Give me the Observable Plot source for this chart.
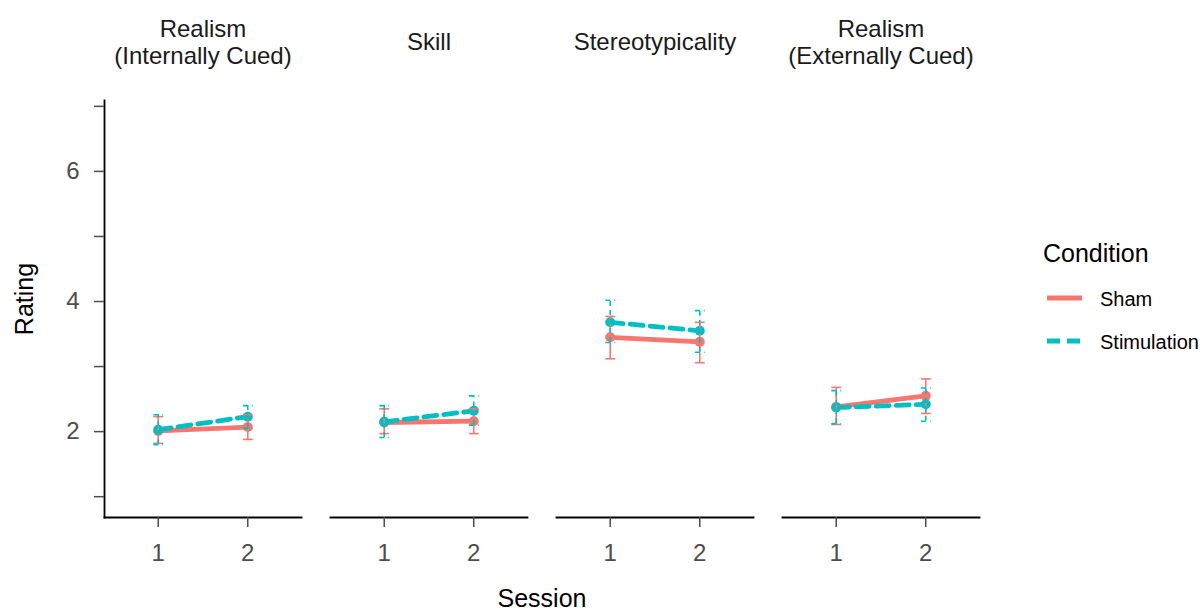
<!DOCTYPE html>
<html><head><meta charset="utf-8">
<script src="https://cdn.jsdelivr.net/npm/d3@7"></script>
<script src="https://cdn.jsdelivr.net/npm/@observablehq/plot@0.6"></script>
<style>
body{margin:0;background:#fff;font-family:"Liberation Sans",Arial,sans-serif;}
#wrap{position:relative;width:1204px;height:611px;overflow:hidden;}
.ttl{position:absolute;font-size:25px;line-height:25px;color:#000;white-space:nowrap;}
</style></head><body><div id="wrap"></div>
<script>
// ---- data ----
const panels = ["Realism\n(Internally Cued)", "Skill", "Stereotypicality", "Realism\n(Externally Cued)"];
const conditions = ["Sham", "Stimulation"];
const sessions = [1, 2];
const shamMean = [[2.01, 2.07], [2.14, 2.16], [3.45, 3.38], [2.38, 2.55]];
const shamLo   = [[1.82, 1.88], [1.97, 1.97], [3.12, 3.06], [2.11, 2.28]];
const shamHi   = [[2.23, 2.26], [2.35, 2.35], [3.77, 3.68], [2.68, 2.81]];
const stimMean = [[2.03, 2.23], [2.15, 2.32], [3.68, 3.55], [2.37, 2.42]];
const stimLo   = [[1.80, 2.05], [1.91, 2.10], [3.37, 3.22], [2.12, 2.16]];
const stimHi   = [[2.26, 2.40], [2.40, 2.55], [4.02, 3.86], [2.63, 2.67]];
const yTicks = [1, 2, 3, 4, 5, 6, 7];
const xTicks = [1, 2];

const COLORS = {Sham: "#F8766D", Stimulation: "#00BFC4"};
const FONT = "Liberation Sans, Arial, sans-serif";

function build(cond, M, L, H) {
  const out = [];
  panels.forEach((p, i) => sessions.forEach((s, j) => {
    out.push({panel: p, condition: cond, session: s, mean: M[i][j], lo: L[i][j], hi: H[i][j]});
  }));
  return out;
}
const sham = build("Sham", shamMean, shamLo, shamHi);
const stim = build("Stimulation", stimMean, stimLo, stimHi);

const capHalf = 0.055;
function errMarks(data, color, dash) {
  const o = {fx: "panel", stroke: color, strokeWidth: 1.6, strokeDasharray: dash};
  return [
    Plot.ruleX(data, {x: "session", y1: "lo", y2: "hi", ...o}),
    Plot.link(data, {x1: d => d.session - capHalf, x2: d => d.session + capHalf, y1: "hi", y2: "hi", ...o}),
    Plot.link(data, {x1: d => d.session - capHalf, x2: d => d.session + capHalf, y1: "lo", y2: "lo", ...o})
  ];
}

const chart = Plot.plot({
  width: 1204, height: 611,
  marginLeft: 103, marginRight: 223, marginTop: 100, marginBottom: 94,
  style: {fontFamily: FONT, fontSize: "24px", background: "white", overflow: "visible"},
  fx: {domain: panels, paddingInner: 0.127, paddingOuter: 0, axis: null, label: null},
  x: {domain: [0.4, 2.6], label: null},
  y: {domain: [0.68, 7.09], label: null},
  marks: [
    Plot.frame({anchor: "bottom", stroke: "#000", strokeWidth: 1.8}),
    Plot.frame({anchor: "left", facetAnchor: "left", stroke: "#000", strokeWidth: 1.8}),
    Plot.axisY({ticks: yTicks, tickFormat: d => (d % 2 === 0 ? String(d) : ""), tickSize: 10, tickPadding: 15,
                fontSize: 24, color: "#4d4d4d", strokeWidth: 1.5, label: null}),
    Plot.axisX({ticks: xTicks, tickFormat: d => String(d), tickSize: 10, tickPadding: 16,
                fontSize: 24, color: "#4d4d4d", strokeWidth: 1.5, label: null}),
    Plot.text(panels, {fx: d => d, text: d => d, frameAnchor: "top", dy: -59, lineAnchor: "middle",
                       fontSize: 24, lineHeight: 1.13, fill: "#1a1a1a"}),
    Plot.line(sham, {x: "session", y: "mean", fx: "panel", stroke: COLORS.Sham, strokeWidth: 4.8}),
    Plot.line(stim, {x: "session", y: "mean", fx: "panel", stroke: COLORS.Stimulation, strokeWidth: 4.8, strokeDasharray: "13,7"}),
    Plot.dot(sham, {x: "session", y: "mean", fx: "panel", fill: COLORS.Sham, r: 5}),
    Plot.dot(stim, {x: "session", y: "mean", fx: "panel", fill: COLORS.Stimulation, r: 5}),
    ...errMarks(sham, COLORS.Sham, null),
    ...errMarks(stim, COLORS.Stimulation, "5,4")
  ]
});
const wrap = document.getElementById("wrap");
wrap.appendChild(chart);

// axis titles
const yt = document.createElement("div");
yt.className = "ttl"; yt.textContent = "Rating";
yt.style.left = "24px"; yt.style.top = "299px";
yt.style.transform = "translate(-50%,-50%) rotate(-90deg)";
wrap.appendChild(yt);
const xt = document.createElement("div");
xt.className = "ttl"; xt.textContent = "Session";
xt.style.left = "542px"; xt.style.top = "586px";
xt.style.transform = "translateX(-50%)";
wrap.appendChild(xt);

// legend
const lg = d3.select(wrap).append("svg")
  .attr("width", 170).attr("height", 140)
  .style("position", "absolute").style("left", "1035px").style("top", "230px")
  .style("font-family", FONT);
lg.append("text").attr("x", 8).attr("y", 32).attr("font-size", 25).attr("fill", "#000").text("Condition");
const items = [
  {name: conditions[0], dash: null, y: 68},
  {name: conditions[1], dash: "13,7", y: 111}
];
items.forEach(it => {
  lg.append("line").attr("x1", 12).attr("x2", 47).attr("y1", it.y).attr("y2", it.y)
    .attr("stroke", COLORS[it.name]).attr("stroke-width", 5)
    .attr("stroke-dasharray", it.dash);
  lg.append("text").attr("x", 65).attr("y", it.y + 8).attr("font-size", 20).attr("fill", "#000").text(it.name);
});
</script></body></html>
